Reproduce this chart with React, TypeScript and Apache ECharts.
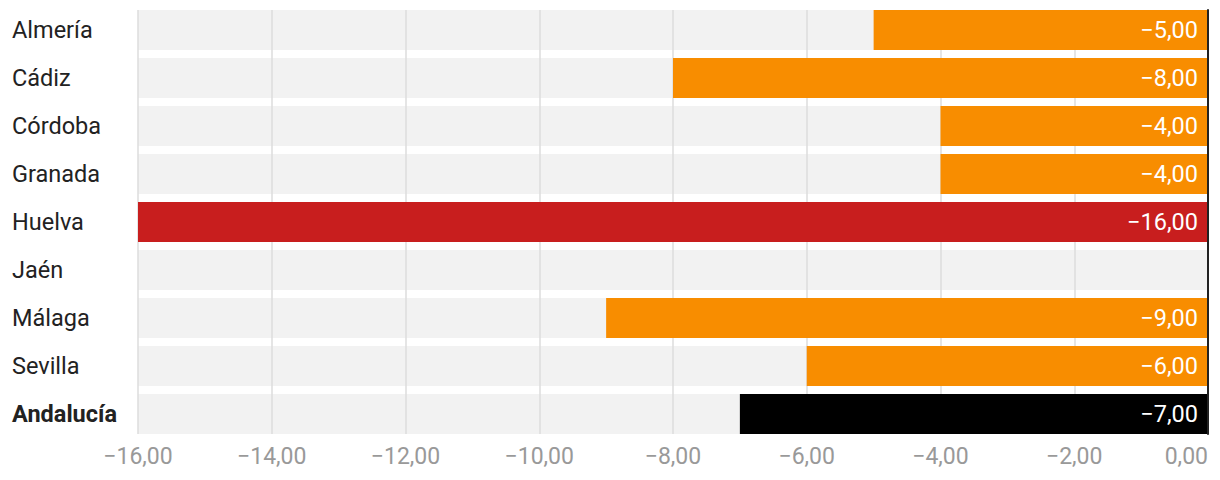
import React, { useEffect, useRef } from "react";
import * as echarts from "echarts";

const categories = ["Almería", "Cádiz", "Córdoba", "Granada", "Huelva", "Jaén", "Málaga", "Sevilla", "Andalucía"];
const values = [-5, -8, -4, -4, -16, 0, -9, -6, -7];
const barColors = ["#F88D00", "#F88D00", "#F88D00", "#F88D00", "#C81E1E", "#F88D00", "#F88D00", "#F88D00", "#000000"];
const axisMin = -16;
const axisMax = 0;
const axisStep = 2;

const fmt = (v: number) => v.toFixed(2).replace(".", ",").replace("-", "\u2212");

export default function App() {
  const ref = useRef<HTMLDivElement>(null);
  useEffect(() => {
    document.body.style.margin = "0";
    const chart = echarts.init(ref.current!, null, { renderer: "svg" });
    const font = "Roboto";
    chart.setOption({
      animation: false,
      grid: [
        { left: 138, right: 12, top: 6, height: 432 },
        { left: 138, right: 12, top: 10, height: 424 },
      ],
      xAxis: [
        {
          type: "value",
          gridIndex: 0,
          min: axisMin,
          max: axisMax,
          interval: axisStep,
          axisLine: { show: false },
          axisTick: { show: false },
          splitLine: { show: false },
          axisLabel: {
            color: "#999999",
            fontFamily: font,
            fontSize: 23,
            margin: 7,
            formatter: (v: number) => fmt(v),
            alignMaxLabel: "right",
          },
        },
        {
          type: "value",
          gridIndex: 1,
          min: axisMin,
          max: axisMax,
          interval: axisStep,
          z: 2,
          axisLine: { show: false },
          axisTick: { show: false },
          axisLabel: { show: false },
          splitLine: { show: true, lineStyle: { color: "#DDDDDD", width: 1.5 } },
        },
      ],
      yAxis: [
        {
          type: "category",
          gridIndex: 0,
          data: categories,
          inverse: true,
          axisLine: { show: false },
          axisTick: { show: false },
          splitLine: { show: false },
          axisLabel: {
            align: "left",
            margin: 126,
            formatter: (v: string) => (v === "Andalucía" ? `{b|${v}}` : `{n|${v}}`),
            rich: {
              n: { fontFamily: font, fontSize: 23.5, color: "#222222" },
              b: { fontFamily: font, fontSize: 23.5, color: "#222222", fontWeight: "bold" },
            },
          },
        },
        {
          type: "value",
          gridIndex: 1,
          min: 0,
          max: 1,
          position: "right",
          z: 4,
          axisLine: { show: true, onZero: false, lineStyle: { color: "#222222", width: 2 } },
          axisTick: { show: false },
          axisLabel: { show: false },
          splitLine: { show: false },
        },
      ],
      series: [
        {
          type: "bar",
          xAxisIndex: 0,
          yAxisIndex: 0,
          z: 1,
          barWidth: 40,
          barGap: "-100%",
          silent: true,
          itemStyle: { color: "#F2F2F2" },
          data: categories.map(() => axisMin),
        },
        {
          type: "bar",
          xAxisIndex: 0,
          yAxisIndex: 0,
          z: 3,
          barWidth: 40,
          barGap: "-100%",
          data: values.map((v, i) => ({ value: v, itemStyle: { color: barColors[i] } })),
          label: {
            show: true,
            position: "insideRight",
            distance: 10,
            color: "#FFFFFF",
            fontFamily: font,
            fontSize: 23.5,
            formatter: (p: any) => (p.value === 0 ? "" : fmt(p.value)),
          },
        },
      ],
    });
    return () => chart.dispose();
  }, []);
  return <div ref={ref} style={{ width: 1220, height: 480 }} />;
}
